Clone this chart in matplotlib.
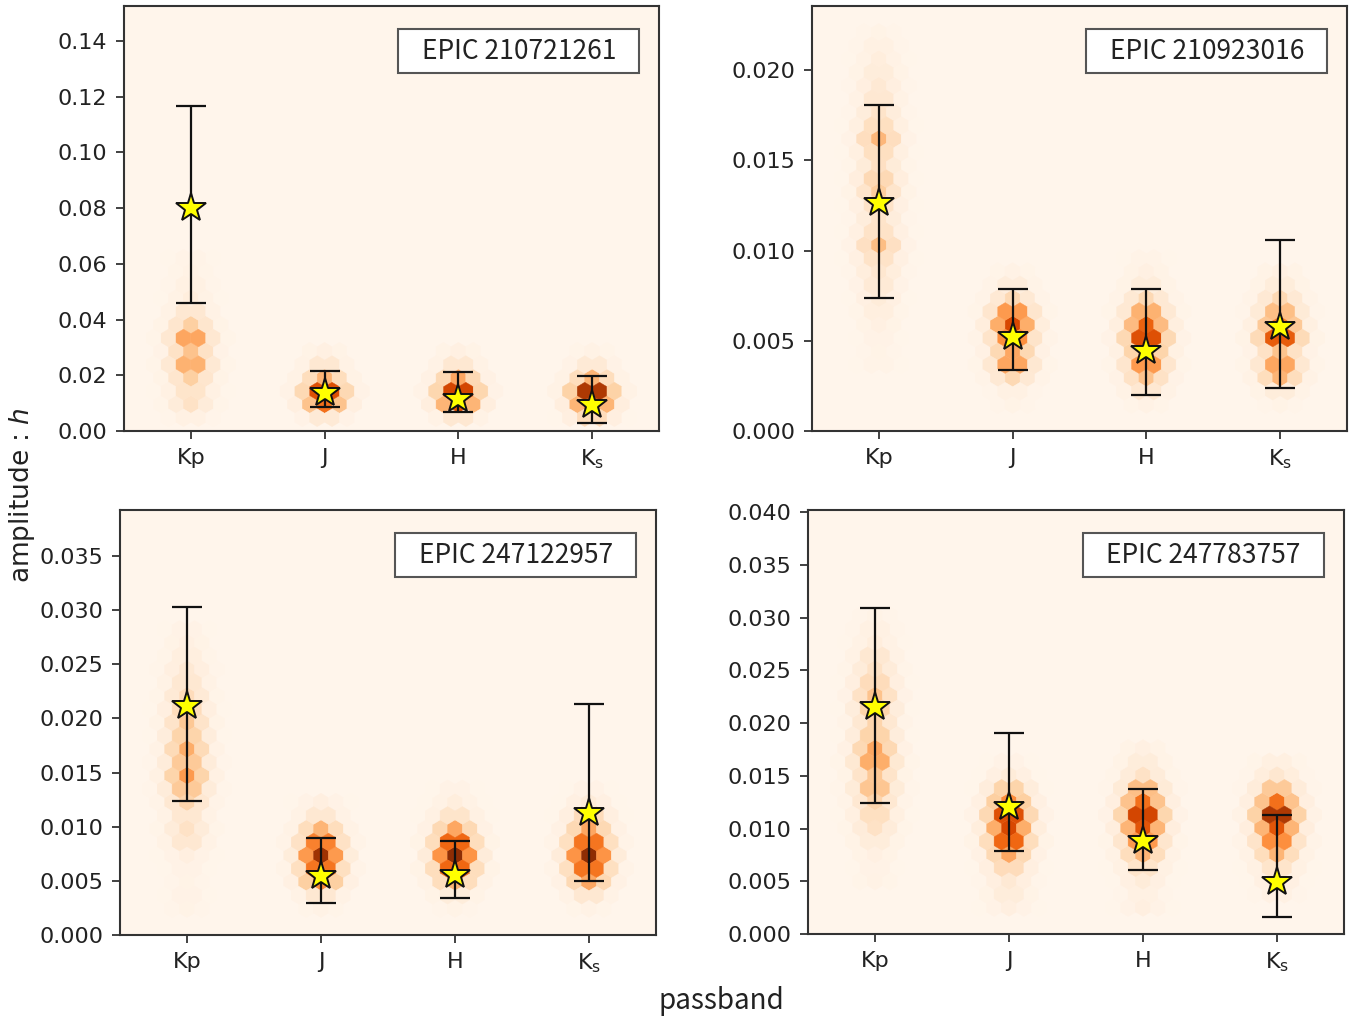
import numpy as np
import matplotlib
matplotlib.use("Agg")
import matplotlib.pyplot as plt
from matplotlib.patches import Rectangle

# ---------------------------------------------------------------- data
bands = ["Kp", "J", "H", "Ks"]
band_labels = ["Kp", "J", "H", r"K$_{\mathrm{s}}$"]
targets = ["EPIC 210721261", "EPIC 210923016", "EPIC 247122957", "EPIC 247783757"]

# best-fit amplitude h and its lower / upper bounds, per band (Kp, J, H, Ks)
h_best = [
    [0.0801, 0.0136, 0.0115, 0.0093],
    [0.01263, 0.0052, 0.00443, 0.00576],
    [0.02115, 0.00545, 0.00554, 0.01127],
    [0.02152, 0.01204, 0.00882, 0.00493],
]
h_lower = [
    [0.0460, 0.0086, 0.0068, 0.0029],
    [0.00737, 0.00338, 0.0020, 0.00238],
    [0.01238, 0.00296, 0.00342, 0.00499],
    [0.01242, 0.00787, 0.00607, 0.00161],
]
h_upper = [
    [0.1167, 0.0215, 0.0212, 0.0197],
    [0.01806, 0.00787, 0.00787, 0.01058],
    [0.0303, 0.00896, 0.00868, 0.02133],
    [0.0309, 0.01905, 0.01374, 0.01128],
]

# posterior sample density: amplitude of the lowest hexagon row, and relative
# density of successive (half-pitch) rows upward, per band
density_start = [
    [0.0048, 0.0048, 0.0048, 0.0048],
    [0.0037, 0.0015, 0.0015, 0.0015],
    [0.0025, 0.0025, 0.0025, 0.0025],
    [0.0050, 0.0025, 0.0025, 0.0038],
]
density_210721261 = [
    [0.04, 0.15, 0.15, 0.25, 0.40, 0.30, 0.45, 0.25, 0.12, 0.06, 0.04, 0.03, 0.02],
    [0.10, 0.60, 0.80, 0.35, 0.12, 0.04],
    [0.12, 0.70, 0.85, 0.40, 0.12, 0.04],
    [0.20, 0.70, 0.95, 0.35, 0.10, 0.03],
]
density_210923016 = [
    [0.02, 0.02, 0.03, 0.04, 0.06, 0.08, 0.10, 0.12, 0.16, 0.32, 0.16, 0.14, 0.16,
     0.26, 0.22, 0.16, 0.18, 0.34, 0.18, 0.14, 0.12, 0.10, 0.08, 0.06, 0.04, 0.02],
    [0.02, 0.04, 0.20, 0.45, 0.40, 0.55, 0.75, 0.50, 0.20, 0.07, 0.03],
    [0.03, 0.12, 0.30, 0.50, 0.45, 0.80, 0.65, 0.40, 0.20, 0.08, 0.04, 0.02],
    [0.02, 0.08, 0.35, 0.45, 0.30, 0.75, 0.55, 0.35, 0.20, 0.08, 0.04],
]
density_247122957 = [
    [0.02, 0.03, 0.02, 0.03, 0.05, 0.12, 0.15, 0.12, 0.22, 0.30, 0.45, 0.30, 0.38,
     0.25, 0.28, 0.20, 0.18, 0.12, 0.10, 0.06, 0.04, 0.03],
    [0.03, 0.12, 0.50, 0.65, 0.90, 0.60, 0.35, 0.12, 0.05],
    [0.02, 0.08, 0.35, 0.70, 0.95, 0.70, 0.40, 0.15, 0.06, 0.03],
    [0.03, 0.12, 0.40, 0.65, 0.95, 0.65, 0.40, 0.20, 0.08, 0.03],
]
density_247783757 = [
    [0.03, 0.03, 0.04, 0.08, 0.15, 0.18, 0.22, 0.32, 0.28, 0.42, 0.40, 0.25, 0.22,
     0.25, 0.30, 0.20, 0.15, 0.12, 0.06, 0.04, 0.02],
    [0.05, 0.08, 0.10, 0.20, 0.40, 0.70, 0.75, 0.80, 0.50, 0.25, 0.08, 0.03],
    [0.05, 0.04, 0.08, 0.15, 0.35, 0.50, 0.70, 0.85, 0.60, 0.35, 0.15, 0.08, 0.04],
    [0.04, 0.08, 0.15, 0.35, 0.55, 0.70, 0.95, 0.60, 0.30, 0.12, 0.05],
]
densities = [density_210721261, density_210923016, density_247122957, density_247783757]

y_top = [0.1526, 0.02355, 0.03925, 0.0402]
y_ticks = [
    np.arange(0, 0.1401, 0.02),
    np.arange(0, 0.02001, 0.005),
    np.arange(0, 0.03501, 0.005),
    np.arange(0, 0.04001, 0.005),
]
y_fmt = ["{:.2f}", "{:.3f}", "{:.3f}", "{:.3f}"]

# ---------------------------------------------------------------- layout
W, H = 1369, 1022
panel_px = [  # left, top, right, bottom in pixels
    (124, 6, 659, 431),
    (812, 6, 1347, 431),
    (120, 510, 656, 935),
    (808, 510, 1344, 934),
]

# hexagon grid: band centres sit on lattice points
NX_PER_BAND = 9
SX = 1.0 / NX_PER_BAND
XMIN, XMAX = -5 * SX, 3 + 5 * SX
NX = int(round((XMAX - XMIN) / SX))
NY = 16
LATERAL = {0.0: 1.0, 0.5: 0.9, 1.0: 0.5, 1.5: 0.25, 2.0: 0.08, 2.5: 0.03}

cmap = plt.get_cmap("Oranges")
plt.rcParams["font.family"] = "sans-serif"
plt.rcParams["font.sans-serif"] = ["DejaVu Sans"]

fig = plt.figure(figsize=(W / 100, H / 100), dpi=100)

for p in range(4):
    l, t, r, b = panel_px[p]
    ax = fig.add_axes([l / W, 1 - b / H, (r - l) / W, (b - t) / H])
    ax.set_facecolor(cmap(0.0))

    sy = y_top[p] / NY
    dy = sy / 2
    xs, ys, cs = [], [], []
    for bi in range(len(bands)):
        k0 = int(round(density_start[p][bi] / dy))
        for n, val in enumerate(densities[p][bi]):
            k = k0 + n
            offs = [0, 1, -1, 2, -2] if k % 2 == 0 else [0.5, -0.5, 1.5, -1.5, 2.5, -2.5]
            for o in offs:
                xs.append(bi + o * SX)
                ys.append(k * dy)
                cs.append(val * LATERAL[abs(o)])
    ax.hexbin(xs, ys, C=cs, reduce_C_function=np.sum, gridsize=(NX, NY),
              extent=(XMIN, XMAX, 0, y_top[p]), cmap=cmap, vmin=0, vmax=1,
              linewidths=0.3, edgecolors="face", zorder=1)

    x = np.arange(len(bands))
    best = np.array(h_best[p])
    yerr = [best - np.array(h_lower[p]), np.array(h_upper[p]) - best]
    ax.errorbar(x, best, yerr=yerr, fmt="none", ecolor="#111111", elinewidth=1.6,
                capsize=11, capthick=1.6, zorder=3)
    ax.plot(x, best, linestyle="none", marker="*", markersize=22,
            markerfacecolor="#ffff00", markeredgecolor="#111111",
            markeredgewidth=1.4, zorder=4)

    ax.set_xlim(-0.5, 3.5)
    ax.set_ylim(0, y_top[p])
    ax.set_xticks(x)
    ax.set_xticklabels(band_labels)
    ax.set_yticks(y_ticks[p])
    ax.set_yticklabels([y_fmt[p].format(v) for v in y_ticks[p]])
    ax.tick_params(labelsize=16, length=6, width=1.3, color="#333333",
                   labelcolor="#222222", pad=6)
    for s in ax.spines.values():
        s.set_linewidth(1.5)
        s.set_color("#333333")

    ax.add_patch(Rectangle((0.513, 0.842), 0.45, 0.103, transform=ax.transAxes,
                           facecolor="white", edgecolor="#555555", linewidth=1.5,
                           zorder=5))
    ax.text(0.738, 0.8935, targets[p], transform=ax.transAxes, ha="center",
            va="center", fontsize=19, color="#222222", zorder=6,
            family=["Noto Sans CJK JP", "DejaVu Sans"])

fig.text(0.016, 0.516, "amplitude : $h$", rotation=90, ha="center", va="center",
         fontsize=19, color="#222222")
fig.text(0.527, 0.021, "passband", ha="center", va="center", fontsize=20,
         color="#222222", family=["Noto Sans CJK JP", "DejaVu Sans"])

fig.savefig("out.png", dpi=100)
